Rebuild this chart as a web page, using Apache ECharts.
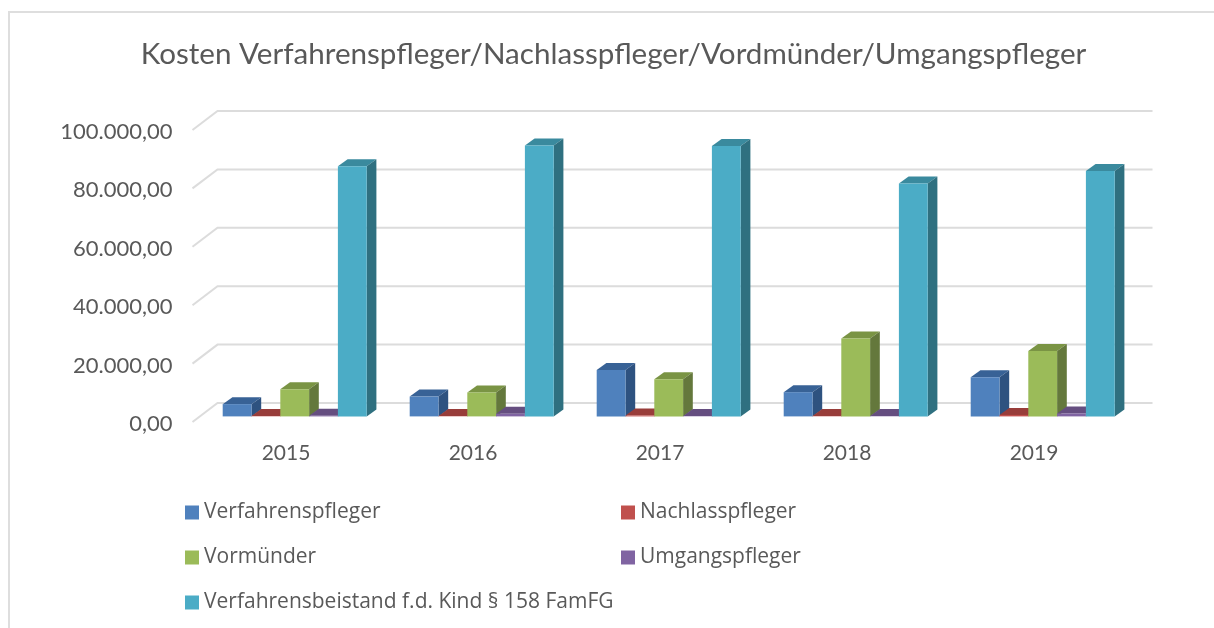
<!DOCTYPE html>
<html>
<head>
<meta charset="utf-8">
<title>Kosten</title>
<style>
  html, body { margin: 0; padding: 0; background: #fff; }
  #main { width: 1214px; height: 628px; }
</style>
<script src="https://cdn.jsdelivr.net/npm/echarts@6/dist/echarts.min.js"></script>
</head>
<body>
<div id="main"></div>
<script>
var categories = ['2015', '2016', '2017', '2018', '2019']
var verfahrenspfleger = [4200, 6800, 15900, 8300, 13400]
var nachlasspfleger = [100, 100, 300, 100, 500]
var vormuender = [9300, 8200, 12700, 26700, 22400]
var umgangspfleger = [200, 900, 100, 100, 1000]
var verfahrensbeistand = [85700, 92800, 92600, 79800, 84000]
var gridTicks = [0, 20000, 40000, 60000, 80000, 100000]

var font = 'Lato, "Open Sans", sans-serif'
var legendFont = '"Open Sans", Lato, sans-serif'
var textColor = '#595959'
var barWidth = 28.8
var barShift = 8.7    // bars sit a bit right of the label
var lift = 5.6        // bars stand between front edge and back wall
var depth = [9.7, 7]  // 3d side of a bar
var wall = [25, 19]   // back wall offset from axis

function poly (points, color) {
  return { type: 'polygon', shape: { points: points }, style: { fill: color } }
}

function barRenderer (index, colors) {
  return function (params, api) {
    var top = api.coord([api.value(0), api.value(1)])
    var base = api.coord([api.value(0), 0])
    var x0 = top[0] + barShift + (index - 2.5) * barWidth
    var x1 = x0 + barWidth
    var y0 = base[1] - lift
    var y1 = top[1] - lift
    var dx = depth[0]
    var dy = depth[1]
    return {
      type: 'group',
      children: [
        poly([[x0, y1], [x0 + dx, y1 - dy], [x1 + dx, y1 - dy], [x1, y1]], colors[1]),
        poly([[x1, y0], [x1 + dx, y0 - dy], [x1 + dx, y1 - dy], [x1, y1]], colors[2]),
        poly([[x0, y0], [x1, y0], [x1, y1], [x0, y1]], colors[0])
      ]
    }
  }
}

function gridRenderer (params, api) {
  var y = api.coord([0, api.value(0)])[1]
  var left = params.coordSys.x
  var right = left + params.coordSys.width
  var style = { stroke: '#dcdcdc', lineWidth: 2, fill: 'none' }
  return {
    type: 'polyline',
    shape: { points: [[left, y], [left + wall[0], y - wall[1]], [right + wall[0], y - wall[1]]] },
    style: style
  }
}

function barSeries (name, values, index, colors) {
  return {
    name: name,
    type: 'custom',
    renderItem: barRenderer(index, colors),
    data: values.map(function (v, i) { return [i, v] }),
    encode: { x: 0, y: 1 },
    itemStyle: { color: colors[0] },
    z: 3,
    silent: true
  }
}

function legendAt (name, left, top) {
  return {
    data: [name],
    left: left,
    top: top,
    itemWidth: 14,
    itemHeight: 14,
    icon: 'rect',
    padding: 0,
    selectedMode: false,
    textStyle: { color: textColor, fontSize: 21, fontFamily: legendFont }
  }
}

var myChart = echarts.init(document.getElementById('main'))
var option = {
  animation: false,
  backgroundColor: '#fff',
  title: {
    text: 'Kosten Verfahrenspfleger/Nachlasspfleger/Vordmünder/Umgangspfleger',
    left: 608.5,
    top: 34,
    textAlign: 'center',
    textStyle: { color: textColor, fontSize: 29.6, fontWeight: 'normal', fontFamily: font }
  },
  legend: [
    legendAt('Verfahrenspfleger', 185, 502),
    legendAt('Nachlasspfleger', 621, 502),
    legendAt('Vormünder', 185, 547),
    legendAt('Umgangspfleger', 621, 547),
    legendAt('Verfahrensbeistand f.d. Kind § 158 FamFG', 185, 592)
  ],
  grid: { left: 192.5, width: 935, top: 130, height: 292 },
  xAxis: {
    type: 'category',
    data: categories,
    axisLine: { show: false },
    axisTick: { show: false },
    axisLabel: { color: textColor, fontSize: 21, fontFamily: font, margin: 21 }
  },
  yAxis: {
    type: 'value',
    min: 0,
    max: 100000,
    interval: 20000,
    axisLine: { show: false },
    axisTick: { show: false },
    splitLine: { show: false },
    axisLabel: {
      margin: 20,
      formatter: function (v) {
        return '{t|' + v.toLocaleString('de-DE', { minimumFractionDigits: 2, maximumFractionDigits: 2 }) + '}'
      },
      rich: {
        t: { color: textColor, fontSize: 22, fontFamily: font, padding: [4, 0, 0, 0] }
      }
    }
  },
  graphic: [
    // chart frame, runs off the photo on the right and bottom
    {
      type: 'polyline',
      shape: { points: [[9, 628], [9, 12], [1214, 12]] },
      style: { stroke: '#dedede', lineWidth: 2, fill: 'none' },
      z: 0
    }
  ],
  series: [
    {
      type: 'custom',
      renderItem: gridRenderer,
      data: gridTicks.map(function (t) { return [t] }),
      encode: { y: 0 },
      z: 1,
      silent: true
    },
    barSeries('Verfahrenspfleger', verfahrenspfleger, 0, ['#4f81bd', '#386296', '#2e5280']),
    barSeries('Nachlasspfleger', nachlasspfleger, 1, ['#c0504d', '#983d3a', '#7f3330']),
    barSeries('Vormünder', vormuender, 2, ['#9bbb59', '#7a9444', '#64783c']),
    barSeries('Umgangspfleger', umgangspfleger, 3, ['#8064a2', '#654e80', '#54416b']),
    barSeries('Verfahrensbeistand f.d. Kind § 158 FamFG', verfahrensbeistand, 4, ['#4bacc6', '#3a8a9e', '#2f7080'])
  ]
}
myChart.setOption(option)
</script>
</body>
</html>
